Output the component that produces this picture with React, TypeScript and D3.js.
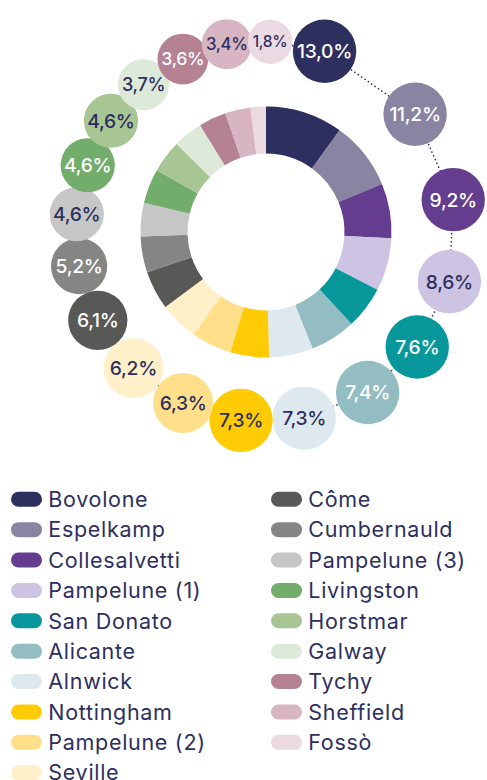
import React from "react";
import * as d3 from "d3";

// ---- data ----
const categories = [
  "Bovolone", "Espelkamp", "Collesalvetti", "Pampelune (1)", "San Donato",
  "Alicante", "Alnwick", "Nottingham", "Pampelune (2)", "Seville",
  "Côme", "Cumbernauld", "Pampelune (3)", "Livingston", "Horstmar",
  "Galway", "Tychy", "Sheffield", "Fossò",
];
// percentages printed in the bubbles
const labelValues = [13.0, 11.2, 9.2, 8.6, 7.6, 7.4, 7.3, 7.3, 6.3, 6.2, 6.1, 5.2, 4.6, 4.6, 4.6, 3.7, 3.6, 3.4, 1.8];
// ring slice sizes (share of the ring)
const sliceValues = [35.9, 31.6, 25.4, 24.5, 19.7, 21.1, 20.4, 17.9, 18.7, 18.1, 18.0, 16.7, 15.5, 16.0, 15.1, 13.7, 12.8, 11.8, 7.1];

// ---- styles ----
const colors = [
  "#2d2f5f", "#8a84a3", "#643d8e", "#cdc3e2", "#08989c",
  "#93bdc3", "#dde9ee", "#ffcb05", "#ffdf8a", "#fff0c9",
  "#585856", "#858583", "#c6c6c6", "#72ad6b", "#a8c594",
  "#deead9", "#b58294", "#d8b5c3", "#ecdae3",
];
const whiteLabel = [
  true, true, true, false, true,
  true, false, false, false, false,
  true, true, false, true, false,
  false, true, false, false,
];
const NAVY = "#2d2f5f";
const FONT = "Inter, 'Noto Sans', sans-serif";

export default function App() {
  const W = 487, H = 800;
  const cx = 266, cy = 232;
  const innerR = 78.5, outerR = 125.5, ringR = 190;

  const pie = d3.pie<number>().value((d) => d).sort(null);
  const arcs = pie(sliceValues);
  const arcGen = d3.arc<d3.PieArcDatum<number>>().innerRadius(innerR).outerRadius(outerR);

  const rScale = d3.scaleLinear().domain([1.8, 7.3]).range([22.3, 31.7]).clamp(true);
  const fScale = d3.scaleLinear().domain([22.3, 24.8, 26]).range([15.5, 16.2, 19.3]).clamp(true);

  type N = { i: number; r: number; tx: number; ty: number; x: number; y: number };
  const nodes: N[] = arcs.map((a, i) => {
    const ang = (a.startAngle + a.endAngle) / 2;
    const tx = cx + ringR * Math.sin(ang);
    const ty = cy - ringR * Math.cos(ang);
    return { i, r: rScale(labelValues[i]), tx, ty, x: tx, y: ty };
  });
  const sim = d3
    .forceSimulation(nodes as any)
    .force("x", d3.forceX((d: any) => d.tx).strength(0.08))
    .force("y", d3.forceY((d: any) => d.ty).strength(0.08))
    .force("radial", d3.forceRadial(ringR, cx, cy).strength(0.08))
    .force("c", d3.forceCollide((d: any) => d.r - 2).strength(1).iterations(4))
    .stop();
  for (let k = 0; k < 400; k++) sim.tick();

  const linePath = d3.line<N>().x((d) => d.x).y((d) => d.y).curve(d3.curveLinearClosed)(nodes) || "";

  const rowY = d3.scaleLinear().domain([0, 9]).range([499.3, 772.7]);
  const perCol = 10;

  return (
    <svg
      width={W}
      height={H}
      style={{ position: "absolute", left: 0, top: 0, display: "block" }}
      fontFamily={FONT}
    >
      <g transform={`translate(${cx},${cy})`}>
        {arcs.map((a, i) => (
          <path key={i} d={arcGen(a) || ""} fill={colors[i]} />
        ))}
      </g>
      <path d={linePath} fill="none" stroke={NAVY} strokeWidth={1.6} strokeDasharray="0.1 4" strokeLinecap="round" />
      {nodes.map((n) => (
        <g key={n.i} transform={`translate(${n.x},${n.y})`}>
          <circle r={n.r} fill={colors[n.i]} />
          <text
            textAnchor="middle"
            dy="0.36em"
            fontSize={fScale(n.r)}
            fontWeight={500}
            fill={whiteLabel[n.i] ? "#ffffff" : NAVY}
            letterSpacing={-0.3}
          >
            {labelValues[n.i].toFixed(1).replace(".", ",") + "%"}
          </text>
        </g>
      ))}
      {categories.map((c, i) => {
        const col = Math.floor(i / perCol);
        const row = i % perCol;
        const y = rowY(row);
        const sx = col === 0 ? 11 : 271;
        const tx = col === 0 ? 48.3 : 308.3;
        return (
          <g key={c}>
            <rect x={sx} y={y - 7.5} width={31} height={15} rx={7.5} fill={colors[i]} />
            <text x={tx} y={y} dy="0.36em" fontSize={21.5} fill={NAVY} letterSpacing={0.7}>
              {c}
            </text>
          </g>
        );
      })}
    </svg>
  );
}
